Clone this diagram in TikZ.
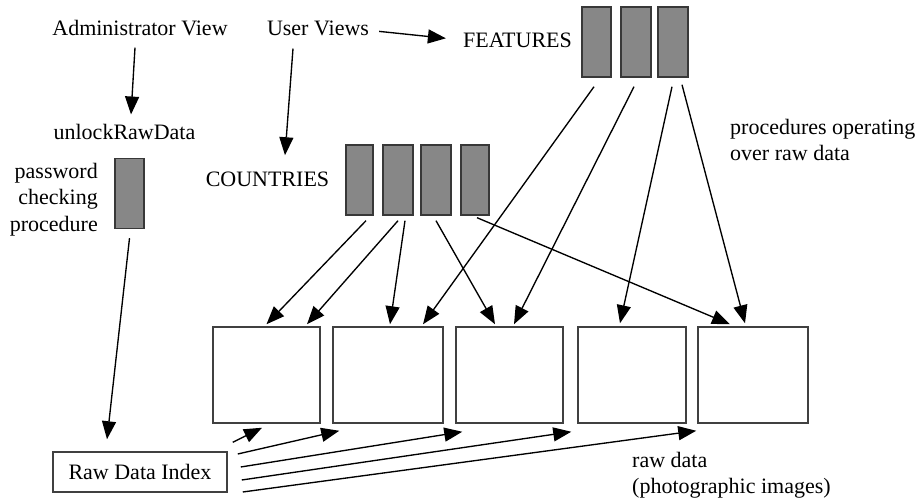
\documentclass[tikz,border=0pt]{standalone}
\usepackage{fontspec}
\setmainfont{Liberation Serif}
\usetikzlibrary{arrows.meta}
\begin{document}
\begin{tikzpicture}[x=1pt,y=-1pt,
  txt/.style={inner sep=0pt, font=\fontsize{22}{26.5}\selectfont},
  gbox/.style={draw=black!78, fill=black!47, line width=1.4pt, inner sep=0pt, minimum height=70pt},
  wbox/.style={draw=black!75, fill=white, line width=1.5pt, inner sep=0pt},
  arr/.style={line width=1.35pt, -{Triangle[length=18pt,width=14pt]}}]
\useasboundingbox (0,0) rectangle (922,500);

% texts
\node[txt, anchor=base] (admin) at (140,36) {Administrator View};
\node[txt, anchor=base] (uv) at (318,36) {User Views};
\node[txt, anchor=base] (feat) at (517.5,48) {FEATURES};
\node[txt, anchor=base] (unlock) at (124.5,140) {unlockRawData};
\node[txt, anchor=base] (countries) at (267.5,187) {COUNTRIES};
\node[txt, anchor=north east, align=right] (pwd) at (98,163) {password\\checking\\procedure};
\node[txt, anchor=north west, align=left] (proc) at (730,119) {procedures operating\\over raw data};
\node[txt, anchor=north west, align=left] (raw) at (632,452) {raw data\\(photographic images)};

% gray procedure rectangles
\node[gbox, minimum width=29pt] (P) at (129.5,193.5) {};
\node[gbox, minimum width=27pt] (C1) at (359.5,180) {};
\node[gbox, minimum width=30pt] (C2) at (398,180) {};
\node[gbox, minimum width=30pt] (C3) at (436,180) {};
\node[gbox, minimum width=28pt] (C4) at (475,180) {};
\node[gbox, minimum width=29pt] (F1) at (596.5,42) {};
\node[gbox, minimum width=30pt] (F2) at (636,42) {};
\node[gbox, minimum width=30pt] (F3) at (673,42) {};

% raw data boxes
\node[wbox, minimum width=107pt, minimum height=96pt] (B1) at (266.5,375) {};
\node[wbox, minimum width=110pt, minimum height=96pt] (B2) at (388,375) {};
\node[wbox, minimum width=107pt, minimum height=96pt] (B3) at (509.5,375) {};
\node[wbox, minimum width=108pt, minimum height=96pt] (B4) at (632,375) {};
\node[wbox, minimum width=110pt, minimum height=96pt] (B5) at (753,375) {};

% index box
\node[wbox, minimum width=174pt, minimum height=40pt, txt, draw=black!75, line width=1.5pt] (R) at (140,472) {Raw Data Index};

% view arrows
\draw[arr] ([xshift=-5pt,yshift=-11pt]admin.south) -- ([xshift=6.5pt,yshift=10pt]unlock.north);
\draw[arr] ([xshift=10pt,yshift=-2.5pt]uv.east) -- ([xshift=-17pt,yshift=2.5pt]feat.west);
\draw[arr] ([xshift=-25pt,yshift=-12pt]uv.south) -- ([xshift=17.5pt,yshift=17pt]countries.north);
\draw[arr] ([yshift=-9pt]P.south) -- ([xshift=-33pt,yshift=12pt]R.north);

% countries procedures
\draw[arr] ([xshift=6.5pt,yshift=-5pt]C1.south) -- ([yshift=2pt]B1.north);
\draw[arr] ([yshift=-5pt]C2.south) -- ([xshift=40.5pt,yshift=2pt]B1.north);
\draw[arr] ([xshift=7pt,yshift=-5pt]C2.south) -- ([xshift=2pt,yshift=2pt]B2.north);
\draw[arr] ([yshift=-5pt]C3.south) -- ([xshift=-14.5pt,yshift=2pt]B3.north);
\draw[arr] ([xshift=2pt,yshift=-2pt]C4.south) -- ([xshift=-23pt,yshift=2pt]B5.north);

% features procedures
\draw[arr] ([xshift=-2.5pt,yshift=-9pt]F1.south) -- ([xshift=35pt,yshift=2pt]B2.north);
\draw[arr] ([xshift=-2pt,yshift=-9pt]F2.south) -- ([xshift=4.5pt,yshift=2pt]B3.north);
\draw[arr] ([xshift=-1pt,yshift=-9pt]F3.south) -- ([xshift=-12pt,yshift=3pt]B4.north);
\draw[arr] ([xshift=9pt,yshift=-7pt]F3.south) -- ([xshift=-8pt,yshift=3pt]B5.north);

% index arrows
\draw[arr] ([xshift=5pt,yshift=9pt]R.north east) -- ([xshift=-4.5pt,yshift=-4pt]B1.south);
\draw[arr] ([xshift=10pt,yshift=18pt]R.east) -- ([xshift=7pt,yshift=-7pt]B2.south west);
\draw[arr] ([xshift=13pt,yshift=5pt]R.east) -- ([xshift=7pt,yshift=-8pt]B3.south west);
\draw[arr] ([xshift=14pt,yshift=-8pt]R.east) -- ([xshift=-6pt,yshift=-8pt]B4.south west);
\draw[arr] ([xshift=15pt,yshift=-20pt]R.east) -- ([xshift=-1pt,yshift=-7pt]B5.south west);
\end{tikzpicture}
\end{document}
